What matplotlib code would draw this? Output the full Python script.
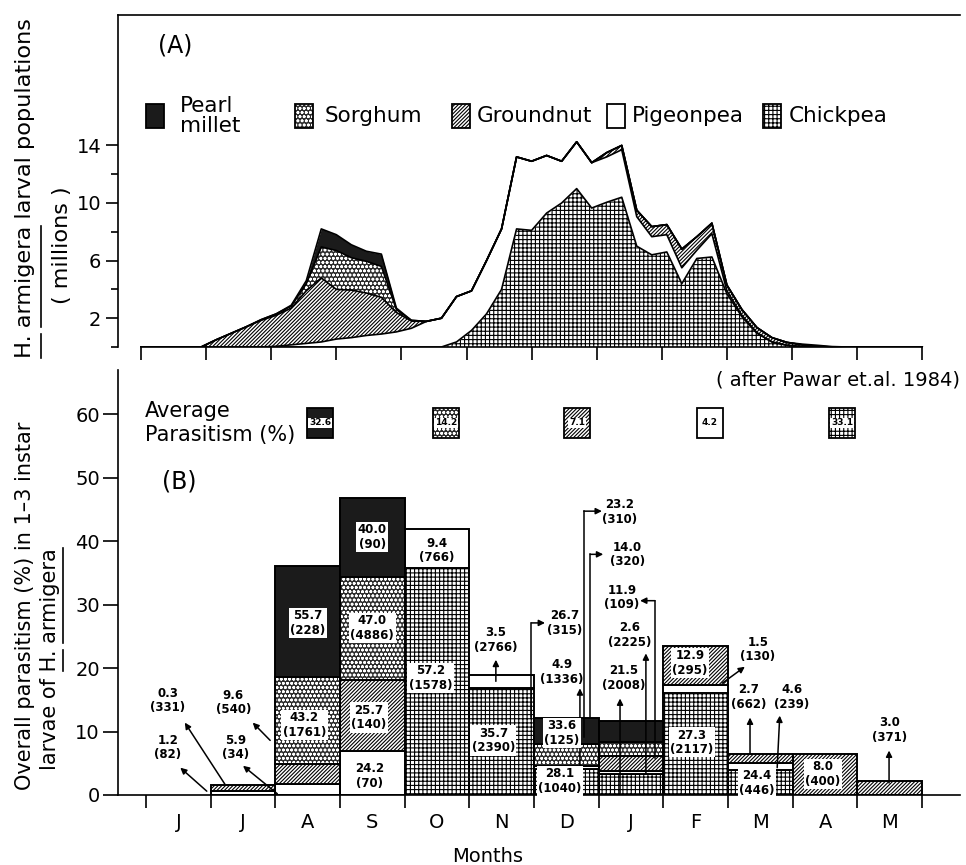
import numpy as np
import matplotlib
matplotlib.use("Agg")
import matplotlib.pyplot as plt
from matplotlib.patches import Rectangle
from matplotlib.lines import Line2D

plt.rcParams["font.family"] = ["DejaVu Sans"]
plt.rcParams["hatch.linewidth"] = 0.8

# ---------------- (A) larval populations (millions), weekly ----------------
# week 0 = first week of June, week 52 = end of May
weeks = np.arange(53)
chickpea_pop = [0, 0, 0, 0, 0, 0, 0, 0, 0, 0, 0, 0, 0, 0, 0, 0, 0, 0, 0, 0, 0,
                0.35, 1.15, 2.3, 4.0, 8.2, 8.1, 9.3, 10.0, 11.0, 9.65, 10.05, 10.4,
                7.0, 6.4, 6.6, 4.4, 6.15, 6.25, 3.7, 2.1, 0.95, 0.35, 0.12, 0.03,
                0, 0, 0, 0, 0, 0, 0, 0]
pigeonpea_pop = [0, 0, 0, 0, 0, 0, 0, 0, 0,
                 0.05, 0.15, 0.25, 0.35, 0.55, 0.65, 0.8, 0.9, 1.05, 1.3, 1.78, 2.0,
                 3.15, 2.75, 3.7, 4.2, 5.0, 4.8, 4.0, 2.9, 3.25, 3.15, 3.15, 3.3,
                 2.05, 1.26, 1.2, 1.1, 0.57, 1.62, 0.2, 0.1, 0.05,
                 0, 0, 0, 0, 0, 0, 0, 0, 0, 0, 0]
groundnut_pop = [0, 0, 0, 0, 0,
                 0.5, 0.95, 1.4, 1.85, 2.15, 2.55, 3.65, 4.45, 3.45, 3.3, 2.95, 2.55, 1.35, 0.5,
                 0, 0, 0, 0, 0, 0, 0, 0, 0, 0, 0, 0,
                 0.3, 0.3, 0.45, 0.7, 0.7, 1.3, 0.94, 0.73, 0.4, 0.4, 0.35, 0.3, 0.2, 0.12, 0.05,
                 0, 0, 0, 0, 0, 0, 0]
sorghum_pop = [0, 0, 0, 0, 0, 0, 0, 0,
               0.05, 0.1, 0.15, 0.5, 2.15, 2.7, 2.25, 2.2, 2.15, 0.2, 0.05,
               0, 0, 0, 0, 0, 0, 0, 0, 0, 0, 0, 0, 0, 0, 0, 0, 0, 0, 0, 0, 0, 0, 0,
               0, 0, 0, 0, 0, 0, 0, 0, 0, 0, 0]
millet_pop = [0, 0, 0, 0, 0, 0, 0, 0, 0, 0,
              0.05, 0.2, 1.25, 1.1, 0.9, 0.7, 0.85, 0.1,
              0, 0, 0, 0, 0, 0, 0, 0, 0, 0, 0, 0, 0, 0, 0, 0, 0, 0, 0, 0, 0, 0, 0, 0, 0, 0,
              0.05, 0.07, 0.03,
              0, 0, 0, 0, 0, 0]

# ---------------- (B) parasitism (%) per month ----------------
months = ["J", "J", "A", "S", "O", "N", "D", "J", "F", "M", "A", "M"]
chickpea_par = [0, 0, 0, 0, 35.8, 16.9, 4.1, 3.3, 16.1, 3.9, 0, 0]
pigeonpea_par = [0, 0.7, 1.7, 7.0, 6.1, 2.0, 0.5, 0.5, 1.3, 1.2, 0, 0]
groundnut_par = [0, 0.9, 3.2, 11.1, 0, 0, 0, 2.4, 6.1, 1.3, 6.45, 2.2]
sorghum_par = [0, 0, 13.7, 16.3, 0, 0, 3.4, 2.1, 0, 0, 0, 0]
millet_par = [0, 0, 17.5, 12.3, 0, 0, 4.2, 3.4, 0, 0, 0, 0]

crops = ["Chickpea", "Pigeonpea", "Groundnut", "Sorghum", "Pearl millet"]
avg_crops = ["Pearl millet", "Sorghum", "Groundnut", "Pigeonpea", "Chickpea"]
avg_parasitism = ["32.6", "14.2", "7.1", "4.2", "33.1"]

# per-crop value labels: % parasitism (larvae examined)
label_text = ["40.0\n(90)", "9.4\n(766)", "55.7\n(228)", "47.0\n(4886)", "3.5\n(2766)",
              "57.2\n(1578)", "0.3\n(331)", "9.6\n(540)", "43.2\n(1761)", "25.7\n(140)",
              "35.7\n(2390)", "1.2\n(82)", "5.9\n(34)", "24.2\n(70)", "23.2\n(310)",
              "14.0\n(320)", "11.9\n(109)", "26.7\n(315)", "2.6\n(2225)", "12.9\n(295)",
              "1.5\n(130)", "4.9\n(1336)", "21.5\n(2008)", "2.7\n(662)", "4.6\n(239)",
              "33.6\n(125)", "27.3\n(2117)", "3.0\n(371)", "8.0\n(400)", "28.1\n(1040)",
              "24.4\n(446)"]
# where each label sits (month, %), and whether it needs a white box
label_pos = [(3.5, 40.6), (4.5, 38.5), (2.5, 27.1), (3.5, 26.3), (5.41, 24.4),
             (4.4, 18.4), (0.34, 14.9), (1.35, 14.6), (2.45, 11.0), (3.45, 12.2),
             (5.37, 8.6), (0.34, 7.5), (1.38, 7.5), (3.46, 3.0), (7.33, 44.6),
             (7.44, 37.9), (7.36, 31.1), (6.48, 27.1), (7.48, 25.2), (8.41, 20.8),
             (9.46, 22.9), (6.43, 19.4), (7.38, 18.4), (9.32, 15.4), (9.99, 15.4),
             (6.43, 9.8), (8.44, 8.3), (11.5, 10.2), (10.47, 3.3), (6.4, 2.2),
             (9.45, 1.9)]
label_boxed = [1, 0, 1, 1, 0, 1, 0, 0, 1, 1, 1, 0, 0, 0, 0, 0, 0, 0, 0, 1,
               0, 0, 0, 0, 0, 1, 1, 0, 1, 1, 1]
arrow_paths = [
    [(0.94, 0.6), (0.53, 4.3)],
    [(1.22, 1.7), (0.60, 11.4)],
    [(2.03, 0.2), (1.50, 4.6)],
    [(1.92, 8.6), (1.65, 11.4)],
    [(5.41, 17.9), (5.41, 21.3)],
    [(5.96, 12.3), (5.96, 27.1), (6.17, 27.1)],
    [(6.71, 4.3), (6.71, 16.8)],
    [(6.77, 9.1), (6.77, 44.7), (7.05, 44.7)],
    [(6.87, 12.2), (6.87, 37.9), (7.07, 37.9)],
    [(7.87, 5.9), (7.87, 30.6), (7.64, 30.6)],
    [(7.73, 3.3), (7.73, 22.3)],
    [(7.33, 0.2), (7.33, 15.2)],
    [(8.91, 17.6), (9.26, 20.2)],
    [(9.34, 6.5), (9.34, 12.2)],
    [(9.76, 4.3), (9.80, 12.5)],
    [(11.49, 1.9), (11.49, 7.0)],
]

styles = {
    "Pearl millet": dict(fc="#1b1b1b", hatch=None, hc="black"),
    "Sorghum": dict(fc="#2c2c2c", hatch="oooo", hc="white"),
    "Groundnut": dict(fc="white", hatch="/" * 9, hc="black"),
    "Pigeonpea": dict(fc="white", hatch=None, hc="black"),
    "Chickpea": dict(fc="white", hatch="++++", hc="black"),
}

W, H = 966, 865
fig = plt.figure(figsize=(W / 100, H / 100), dpi=100)


def fx(x):
    return x / W


def fy(y):
    return 1 - y / H


def px_axes(left, top, right, bottom):
    return fig.add_axes([left / W, 1 - bottom / H, (right - left) / W, (bottom - top) / H])


def fig_patch(x, y, w, h, name):
    st = styles[name]
    rect = (fx(x), fy(y + h))
    fig.add_artist(Rectangle(rect, w / W, h / H, transform=fig.transFigure,
                             facecolor=st["fc"], edgecolor=st["hc"], hatch=st["hatch"], lw=0))
    fig.add_artist(Rectangle(rect, w / W, h / H, transform=fig.transFigure,
                             fill=False, edgecolor="k", lw=1.3))


# ---------------- panel A ----------------
axA = px_axes(118, 15, 960, 347)
axA.set_xlim((118 - 141) / 65.1, (960 - 141) / 65.1)
axA.set_ylim(0, (347 - 15) / 14.4)

x_w = weeks * 12 / 52
base = np.zeros(len(weeks))
for name, vals in zip(crops, [chickpea_pop, pigeonpea_pop, groundnut_pop, sorghum_pop, millet_pop]):
    st = styles[name]
    top = base + np.asarray(vals, float)
    axA.fill_between(x_w, base, top, facecolor=st["fc"], edgecolor=st["hc"],
                     hatch=st["hatch"], linewidth=0)
    axA.plot(x_w, top, color="k", lw=1.2)
    base = top

axA.set_yticks([2, 6, 10, 14])
axA.set_yticks([0, 4, 8, 12], minor=True)
axA.set_xticks(range(13))
axA.set_xticklabels([])
axA.tick_params(axis="y", which="major", length=9, width=1.2, labelsize=14, pad=3)
axA.tick_params(axis="y", which="minor", length=5, width=1.2)
axA.tick_params(axis="x", which="major", length=9.4, width=1.2)
axA.spines["right"].set_visible(False)
axA.spines["bottom"].set_bounds(0, 12)
for s in axA.spines.values():
    s.set_linewidth(1.2)

# ---------------- panel B ----------------
axB = px_axes(118, 370, 960, 795)
axB.set_xlim((118 - 146) / 64.67, (960 - 146) / 64.67)
axB.set_ylim(0, (795 - 370) / 6.35)

centers = np.arange(12) + 0.5
bottom = np.zeros(12)
for name, vals in zip(crops, [chickpea_par, pigeonpea_par, groundnut_par, sorghum_par, millet_par]):
    st = styles[name]
    vals = np.asarray(vals, float)
    m = vals > 0
    axB.bar(centers[m], vals[m], 1.0, bottom=bottom[m], color=st["fc"],
            edgecolor=st["hc"], hatch=st["hatch"], linewidth=0)
    axB.bar(centers[m], vals[m], 1.0, bottom=bottom[m], fill=False,
            edgecolor="k", linewidth=1.4)
    bottom += vals

for txt, (mx, my), boxed in zip(label_text, label_pos, label_boxed):
    kw = {}
    if boxed:
        kw["bbox"] = dict(boxstyle="square,pad=0.12", fc="white", ec="none")
    axB.text(mx, my, txt, ha="center", va="center", fontsize=8.5, fontweight="bold",
             linespacing=1.15, zorder=6, **kw)

for path in arrow_paths:
    xs, ys = zip(*path)
    if len(path) > 2:
        axB.plot(xs[:-1], ys[:-1], color="k", lw=1.1, zorder=5)
    axB.annotate("", xy=path[-1], xytext=path[-2],
                 arrowprops=dict(arrowstyle="-|>", color="k", lw=1.1,
                                 mutation_scale=9, shrinkA=0, shrinkB=0), zorder=5)

axB.set_yticks(range(0, 61, 10))
axB.set_xticks(range(13))
axB.set_xticklabels([])
axB.set_xticks(centers, minor=True)
axB.set_xticklabels(months, minor=True)
axB.tick_params(axis="y", length=10.5, width=1.2, labelsize=14, pad=2.5)
axB.tick_params(axis="x", which="major", length=9.4, width=1.2)
axB.tick_params(axis="x", which="minor", length=0, labelsize=14, pad=13)
axB.spines["right"].set_visible(False)
axB.spines["top"].set_visible(False)
for s in axB.spines.values():
    s.set_linewidth(1.2)

# ---------------- legends and annotations ----------------
fig.text(fx(158), fy(45), "(A)", fontsize=17, va="center")
fig.text(fx(162), fy(481), "(B)", fontsize=17, va="center")

leg_x = [146, 295, 452, 607, 763]
leg_tx = [180, 325, 477, 632, 789]
leg_names = ["Pearl\nmillet", "Sorghum", "Groundnut", "Pigeonpea", "Chickpea"]
for x, tx, name, lab in zip(leg_x, leg_tx, avg_crops, leg_names):
    fig_patch(x, 104, 18, 24, name)
    fig.text(fx(tx), fy(116), lab, fontsize=15.5, va="center", ha="left", linespacing=0.95)

fig.text(fx(960), fy(380), "( after Pawar et.al. 1984)", fontsize=14, ha="right", va="center")
fig.text(fx(145), fy(423), "Average\nParasitism (%)", fontsize=15, ha="left", va="center",
         linespacing=1.3)
for cx, name, val in zip([320, 446, 577, 710, 842], avg_crops, avg_parasitism):
    fig_patch(cx - 13, 408, 26, 30, name)
    fig.text(fx(cx), fy(423), val, fontsize=6.5, fontweight="bold", ha="center", va="center",
             bbox=dict(boxstyle="square,pad=0.1", fc="white", ec="none"))

fig.text(fx(488), fy(857), "Months", fontsize=14, ha="center", va="center")

# ---------------- rotated axis titles with underlined species name ----------------
fig.canvas.draw()
rend = fig.canvas.get_renderer()


def text_len(s, size):
    t = fig.text(0, 0, s, fontsize=size, rotation=90)
    L = t.get_window_extent(rend).height
    t.remove()
    return L


def fit_size(s, target):
    return 10 * target / text_len(s, 10)


def underline(x, y0, y1):
    fig.add_artist(Line2D([fx(x), fx(x)], [fy(y0), fy(y1)], color="k", lw=1.2,
                          transform=fig.transFigure))


a1 = "H. armigera larval populations"
sa = fit_size(a1, 340)
fig.text(fx(25), fy(358), a1, fontsize=sa, rotation=90, ha="center", va="bottom")
fig.text(fx(62), fy(245), "( millions )", fontsize=sa, rotation=90, ha="center", va="center")
end = 358 - text_len("H. armigera", sa)
underline(41, 358, 358 - text_len("H.", sa))
underline(41, end + text_len("armigera", sa), end)

b1 = "Overall parasitism (%) in 1–3 instar"
b2 = "larvae of H. armigera"
sb = fit_size(b1, 368)
fig.text(fx(25), fy(790), b1, fontsize=sb, rotation=90, ha="center", va="bottom")
fig.text(fx(50), fy(770), b2, fontsize=sb, rotation=90, ha="center", va="bottom")
end = 770 - text_len(b2, sb)
h_start = end + text_len("H. armigera", sb)
underline(63, h_start, h_start - text_len("H.", sb))
underline(63, end + text_len("armigera", sb), end)

fig.savefig("out.png", dpi=100)
